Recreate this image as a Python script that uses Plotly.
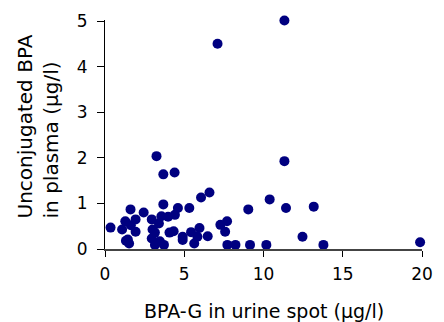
import plotly.graph_objects as go

bpa_g_urine = [7.1, 3.25, 3.68, 4.39, 6.59, 6.06, 3.68, 4.6, 5.32, 1.61, 2.44, 9.04,
               3.56, 3.98, 4.41, 2.95, 3.40, 1.93, 1.28, 1.63, 0.35, 1.08, 1.93, 3.0,
               3.15, 4.07, 4.33, 4.9, 4.9, 5.43, 5.96, 5.83, 5.63, 6.48, 7.28, 7.70,
               7.58, 2.95, 1.32, 1.52, 1.44, 3.15, 3.46, 3.72, 7.72, 8.23, 9.15, 10.18,
               11.32, 11.32, 10.39, 11.42, 13.17, 12.46, 13.78, 19.88]
bpa_plasma = [4.51, 2.04, 1.64, 1.68, 1.24, 1.13, 0.98, 0.90, 0.90, 0.87, 0.80, 0.87,
              0.72, 0.71, 0.75, 0.65, 0.56, 0.65, 0.61, 0.52, 0.47, 0.43, 0.38, 0.43,
              0.36, 0.36, 0.39, 0.27, 0.20, 0.37, 0.46, 0.27, 0.12, 0.28, 0.53, 0.61,
              0.38, 0.23, 0.18, 0.12, 0.21, 0.09, 0.17, 0.09, 0.09, 0.09, 0.09, 0.09,
              5.02, 1.93, 1.09, 0.90, 0.93, 0.27, 0.09, 0.15]

x_ticks = [0, 5, 10, 15, 20]
y_ticks = [0, 1, 2, 3, 4, 5]
x_title = "BPA-G in urine spot (µg/l)"
y_title = "Unconjugated BPA<br>in plasma (µg/l)"

FONT = "DejaVu Sans"

fig = go.Figure()
fig.add_trace(go.Scatter(
    x=bpa_g_urine, y=bpa_plasma, mode="markers",
    marker=dict(size=10, color="#000080", line=dict(width=0)),
    cliponaxis=False, showlegend=False,
))

W, H = 444, 322
Y_MAX = 5.03
L, R, B = 105, 11, 73
ph = round(229 * Y_MAX / 5)
T = H - B - ph
pw = W - L - R

fig.update_layout(
    width=W, height=H,
    margin=dict(l=L, r=R, t=T, b=B, pad=0),
    paper_bgcolor="white", plot_bgcolor="white",
    font=dict(family=FONT, size=17, color="black"),
    xaxis=dict(range=[0, 20], tickvals=x_ticks, ticks="outside", ticklen=6,
               tickcolor="black", showline=True, linecolor="#444444", linewidth=1.5,
               showgrid=False, zeroline=False, fixedrange=True, ticklabelstandoff=3,
               tickfont=dict(family=FONT, size=17, color="black")),
    yaxis=dict(range=[0, Y_MAX], tickvals=y_ticks, ticks="outside", ticklen=7,
               tickcolor="black", showline=True, linecolor="black", linewidth=1,
               showgrid=False, zeroline=False, fixedrange=True, ticklabelstandoff=6,
               tickfont=dict(family=FONT, size=17, color="black")),
    annotations=[
        dict(text=x_title, xref="paper", yref="paper",
             x=(269 - L) / pw, y=(H - B - 311) / ph, xanchor="center", yanchor="middle",
             showarrow=False, font=dict(family=FONT, size=19, color="black")),
        dict(text=y_title, xref="paper", yref="paper", textangle=-90, align="left",
             x=(36 - L) / pw, y=(H - B - 220) / ph, xanchor="center", yanchor="bottom",
             showarrow=False, font=dict(family=FONT, size=20, color="black")),
    ],
)

fig.write_html("out.html")
